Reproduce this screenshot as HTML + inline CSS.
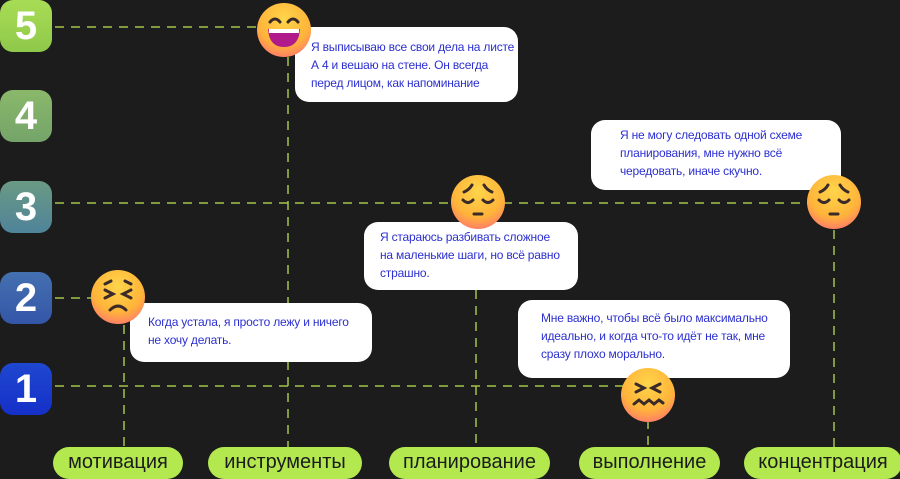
<!DOCTYPE html>
<html><head><meta charset="utf-8"><style>
body{margin:0;width:900px;height:476px;background:#1c1c1c;position:relative;overflow:hidden;font-family:"Liberation Sans","DejaVu Sans",sans-serif}
.t{position:absolute;left:0;width:52px;height:52px;border-radius:13px;color:#fff;font-size:40px;font-weight:bold;text-align:center;line-height:52px}
.b{position:absolute;background:#fff;border-radius:14px;color:#2b2fd0;font-size:12px;line-height:18px;box-sizing:border-box;padding-top:11px;letter-spacing:-0.2px}
.p{position:absolute;top:447px;height:32px;background:#b3e84f;border-radius:16px;color:#1c1c1c;font-size:20px;text-align:center;line-height:30px}
.e{position:absolute;width:54px;height:54px;border-radius:50%;background:radial-gradient(circle at 50% 30%,#ffd54a 0%,#ffb43a 55%,#ff7a6a 85%,#ff5c9a 100%)}
svg.l{position:absolute;left:0;top:0}
</style></head><body>
<svg class="l" width="900" height="476">
<g stroke="#a3c44a" stroke-width="1.5" stroke-dasharray="9 7" fill="none">
<line x1="55" y1="27" x2="265" y2="27"/>
<line x1="55" y1="203" x2="815" y2="203"/>
<line x1="55" y1="298" x2="95" y2="298"/>
<line x1="55" y1="386" x2="625" y2="386"/>
<line x1="124" y1="325" x2="124" y2="447"/>
<line x1="288" y1="57" x2="288" y2="447"/>
<line x1="476" y1="290" x2="476" y2="447"/>
<line x1="648" y1="420" x2="648" y2="447"/>
<line x1="834" y1="230" x2="834" y2="447"/>
</g></svg>
<div class="t" style="top:0;background:linear-gradient(#a8dc55,#8fc94a)">5</div>
<div class="t" style="top:90px;background:linear-gradient(#8ab86a,#74a46a)">4</div>
<div class="t" style="top:181px;background:linear-gradient(#6a9a84,#4f8399)">3</div>
<div class="t" style="top:272px;background:linear-gradient(#4470b0,#3456a8)">2</div>
<div class="t" style="top:363px;background:linear-gradient(#1f47d0,#1530c8)">1</div>

<div class="b" style="left:295px;top:27px;width:223px;height:75px;padding-left:16px">Я выписываю все свои дела на листе<br>А 4 и вешаю на стене. Он всегда<br>перед лицом, как напоминание</div>
<div class="b" style="left:591px;top:120px;width:250px;height:70px;padding-left:29px;padding-top:6px">Я не могу следовать одной схеме<br>планирования, мне нужно всё<br>чередовать, иначе скучно.</div>
<div class="b" style="left:364px;top:222px;width:214px;height:68px;padding-left:16px;padding-top:6px">Я стараюсь разбивать сложное<br>на маленькие шаги, но всё равно<br>страшно.</div>
<div class="b" style="left:130px;top:303px;width:242px;height:59px;padding-left:18px;padding-top:10px">Когда устала, я просто лежу и ничего<br>не хочу делать.</div>
<div class="b" style="left:518px;top:300px;width:272px;height:78px;padding-left:23px;padding-top:9px">Мне важно, чтобы всё было максимально<br>идеально, и когда что-то идёт не так, мне<br>сразу плохо морально.</div>

<div class="e" style="left:257px;top:3px"><svg width="54" height="54"><g stroke="#3a2a2a" stroke-width="3" fill="none" stroke-linecap="round"><path d="M13 19 q5 -6 10 0"/><path d="M31 19 q5 -6 10 0"/></g><path d="M11 26 h32 q-1 18 -16 18 q-15 0 -16 -18z" fill="#b01a8a"/><path d="M12 26 h30 v4 h-30z" fill="#fff"/></svg></div>
<div class="e" style="left:451px;top:175px"><svg width="54" height="54"><g stroke="#3a2a2a" stroke-width="3" fill="none" stroke-linecap="round"><path d="M13 17 q5 -2 8 -7"/><path d="M41 17 q-5 -2 -8 -7"/><path d="M12 25 q5 5 10 0"/><path d="M32 25 q5 5 10 0"/><path d="M23 39 h8"/></g></svg></div>
<div class="e" style="left:807px;top:175px"><svg width="54" height="54"><g stroke="#3a2a2a" stroke-width="3" fill="none" stroke-linecap="round"><path d="M13 17 q5 -2 8 -7"/><path d="M41 17 q-5 -2 -8 -7"/><path d="M12 25 q5 5 10 0"/><path d="M32 25 q5 5 10 0"/><path d="M23 39 h8"/></g></svg></div>
<div class="e" style="left:91px;top:270px"><svg width="54" height="54"><g stroke="#3a2a2a" stroke-width="3" fill="none" stroke-linecap="round"><path d="M14 14 l6 -3"/><path d="M40 14 l-6 -3"/><path d="M14 20 l8 4 l-8 4"/><path d="M40 20 l-8 4 l8 4"/><path d="M19 40 q8 -8 16 0"/></g></svg></div>
<div class="e" style="left:621px;top:368px"><svg width="54" height="54"><g stroke="#3a2a2a" stroke-width="3" fill="none" stroke-linecap="round"><path d="M15 16 l8 4 l-8 4"/><path d="M39 16 l-8 4 l8 4"/><path d="M13 36 l5 -4 l5 4 l5 -4 l5 4 l5 -4 l4 3"/></g></svg></div>

<div class="p" style="left:53px;width:130px">мотивация</div>
<div class="p" style="left:208px;width:154px">инструменты</div>
<div class="p" style="left:389px;width:161px">планирование</div>
<div class="p" style="left:579px;width:141px">выполнение</div>
<div class="p" style="left:744px;width:158px">концентрация</div>
</body></html>
